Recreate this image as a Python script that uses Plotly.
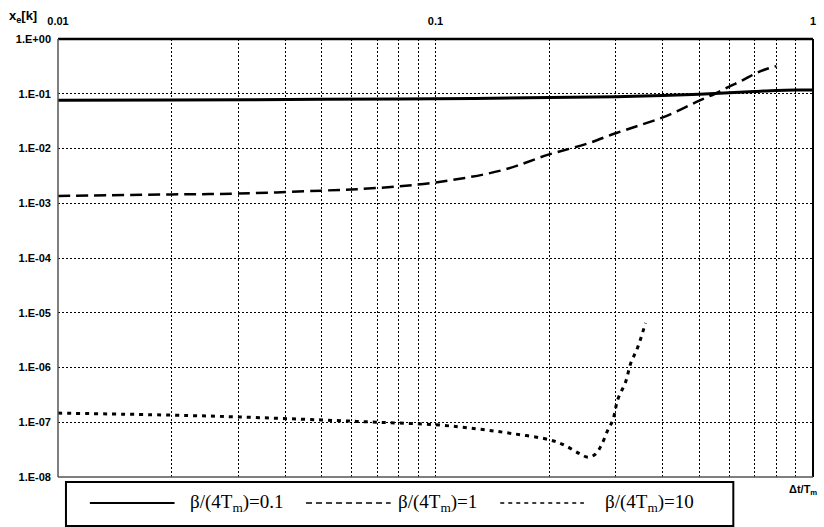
import plotly.graph_objects as go

# ---- data ----
x1 = [0.01, 0.02, 0.05, 0.1, 0.2, 0.3, 0.4, 0.5, 0.6, 0.7, 0.8, 0.9, 1.0]
y1 = [0.076, 0.077, 0.079, 0.081, 0.085, 0.088, 0.093, 0.098, 0.104, 0.11, 0.115, 0.117, 0.117]

x2 = [0.01, 0.02, 0.03, 0.05, 0.07, 0.1, 0.15, 0.2, 0.25, 0.3, 0.35, 0.4, 0.45, 0.5, 0.55, 0.6, 0.65,
      0.7, 0.75, 0.8]
y2 = [0.00136, 0.00145, 0.0015, 0.0017, 0.0019, 0.0024, 0.0040, 0.0078, 0.012, 0.019, 0.027, 0.037,
      0.053, 0.075, 0.1, 0.135, 0.175, 0.23, 0.28, 0.32]

x3 = [0.01, 0.02, 0.03, 0.05, 0.07, 0.1, 0.13, 0.16, 0.2, 0.22, 0.24, 0.254, 0.265, 0.275, 0.286,
      0.295, 0.304, 0.319, 0.329, 0.343, 0.36]
y3 = [1.47e-7, 1.35e-7, 1.25e-7, 1.1e-7, 1.0e-7, 9.0e-8, 7.5e-8, 6.2e-8, 4.8e-8, 3.8e-8, 2.7e-8,
      2.3e-8, 2.6e-8, 3.8e-8, 7.2e-8, 1.1e-7, 2.6e-7, 5.5e-7, 1.2e-6, 2.3e-6, 6.5e-6]

series_names = ["β/(4T<sub>m</sub>)=0.1", "β/(4T<sub>m</sub>)=1", "β/(4T<sub>m</sub>)=10"]

x_grid = [0.01 * k for k in range(1, 10)] + [0.1 * k for k in range(1, 11)]
x_labels = {0.01: "0.01", 0.1: "0.1", 1.0: "1"}
y_ticks = [10.0 ** (-k) for k in range(0, 9)]
y_labels = ["1.E+00", "1.E-01", "1.E-02", "1.E-03", "1.E-04", "1.E-05", "1.E-06", "1.E-07", "1.E-08"]

fig = go.Figure()
fig.add_trace(go.Scatter(x=x1, y=y1, mode="lines", line=dict(color="black", width=3, shape="spline"),
                         name=series_names[0], showlegend=False))
fig.add_trace(go.Scatter(x=x2, y=y2, mode="lines", line=dict(color="black", width=2.5, dash="12px,6px", shape="spline"),
                         name=series_names[1], showlegend=False))
fig.add_trace(go.Scatter(x=x3, y=y3, mode="lines", line=dict(color="black", width=3, dash="4px,5px", shape="spline"),
                         name=series_names[2], showlegend=False))

tick_text = []
for v in x_grid:
    lab = ""
    for k, t in x_labels.items():
        if abs(v - k) < 1e-9:
            lab = t
    tick_text.append(lab)

fig.update_xaxes(type="log", range=[-2, 0], side="top", tickmode="array", tickvals=x_grid,
                 ticktext=tick_text, showgrid=True, gridcolor="black", griddash="2px,2px", gridwidth=1,
                 ticks="", showline=False, zeroline=False, ticklabelstandoff=11,
                 tickfont=dict(family="Liberation Sans", size=11, color="black", weight="bold"))
fig.update_yaxes(type="log", range=[-8, 0], tickmode="array", tickvals=y_ticks, ticktext=y_labels,
                 showgrid=True, gridcolor="black", griddash="2px,2px", gridwidth=1,
                 ticks="", showline=False, zeroline=False, ticklabelstandoff=6,
                 tickfont=dict(family="Liberation Sans", size=11, color="black", weight="bold"))

shapes = [
    dict(type="line", xref="paper", yref="paper", x0=0, x1=1, y0=1, y1=1, line=dict(color="black", width=2.5)),
    dict(type="line", xref="paper", yref="paper", x0=1, x1=1, y0=0, y1=1, line=dict(color="black", width=2)),
    dict(type="line", xref="paper", yref="paper", x0=0, x1=0, y0=0, y1=1, line=dict(color="#555", width=1.5)),
    dict(type="line", xref="paper", yref="paper", x0=0, x1=1, y0=0, y1=0, line=dict(color="#555", width=1.5)),
]

W, H = 824, 527
ml, mr, mt, mb = 58, 8, 39, 50
pw, ph = W - ml - mr, H - mt - mb
def px(x):
    return (x - ml) / pw
def py(y):
    return (H - mb - y) / ph

shapes.append(dict(type="rect", xref="paper", yref="paper", x0=px(66), x1=px(736), y0=py(526), y1=py(482),
                   line=dict(color="black", width=2), fillcolor="white"))
leg_y = py(503)
shapes.append(dict(type="line", xref="paper", yref="paper", x0=px(90), x1=px(175), y0=leg_y, y1=leg_y,
                   line=dict(color="black", width=2)))
shapes.append(dict(type="line", xref="paper", yref="paper", x0=px(307), x1=px(392), y0=leg_y, y1=leg_y,
                   line=dict(color="black", width=1.5, dash="6px,4px")))
shapes.append(dict(type="line", xref="paper", yref="paper", x0=px(502), x1=px(586), y0=leg_y, y1=leg_y,
                   line=dict(color="black", width=1.5, dash="4px,4px")))

annotations = [
    dict(text="<b>x<sub>e</sub>[k]</b>", xref="paper", yref="paper", x=px(7), y=py(16), xanchor="left",
         yanchor="middle", showarrow=False, font=dict(family="Liberation Sans", size=13, color="black")),
    dict(text="<b>Δt/T<sub>m</sub></b>", xref="paper", yref="paper", x=px(822), y=py(490), xanchor="right",
         yanchor="middle", showarrow=False, font=dict(family="Liberation Sans", size=11, color="black")),
]
for xs, name in zip([189, 397, 605], series_names):
    annotations.append(dict(text=name, xref="paper", yref="paper", x=px(xs), y=leg_y, xanchor="left",
                            yanchor="middle", showarrow=False,
                            font=dict(family="Liberation Serif", size=19, color="black")))

fig.update_layout(width=W, height=H, margin=dict(l=ml, r=mr, t=mt, b=mb),
                  paper_bgcolor="white", plot_bgcolor="white", showlegend=False,
                  shapes=shapes, annotations=annotations)

fig.write_html("out.html")
